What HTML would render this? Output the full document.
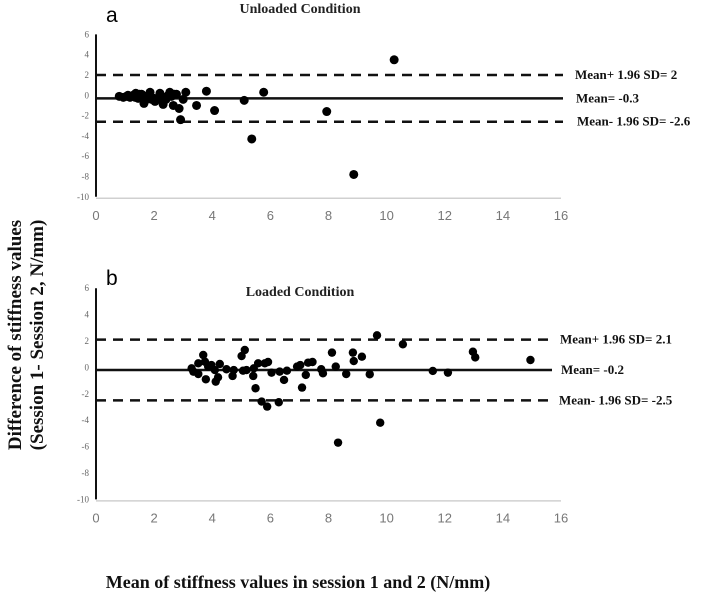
<!DOCTYPE html>
<html><head><meta charset="utf-8"><style>
html,body{margin:0;padding:0;background:#fff;width:709px;height:598px;overflow:hidden}
svg{display:block}
.tk{font-family:"Liberation Serif",serif;font-size:9px;fill:#666}
.xt{font-family:"Liberation Sans",sans-serif;font-size:13px;fill:#777}
.lab{font-family:"Liberation Serif",serif;font-weight:bold;font-size:13px;fill:#111}
.ttl{font-family:"Liberation Serif",serif;font-weight:bold;font-size:14px;fill:#222}
.bigx{font-family:"Liberation Serif",serif;font-weight:bold;font-size:18px;fill:#111}
.bigy{font-family:"Liberation Serif",serif;font-weight:bold;font-size:19px;fill:#111}
.let{font-family:"Liberation Sans",sans-serif;font-size:21px;fill:#000}
</style></head><body>
<svg id="chart" width="709" height="598">
<text class="bigx" x="298" y="588" text-anchor="middle">Mean of  stiffness values in session 1 and 2 (N/mm)</text>
<g transform="translate(21,335) rotate(-90)">
<text class="bigy" x="0" y="0" text-anchor="middle">Difference of  stiffness values</text>
<text class="bigy" x="0" y="22" text-anchor="middle">(Session 1- Session 2, N/mm)</text>
</g>
</svg>
<script>
const yTicks=[6,4,2,0,-2,-4,-6,-8,-10];
const xTicks=[0,2,4,6,8,10,12,14,16];
const unloadedX=[0.80,0.94,1.05,1.17,1.28,1.37,1.45,1.57,1.65,1.74,1.86,1.91,2.03,2.14,2.26,2.31,2.41,2.49,2.54,2.60,2.66,2.77,2.86,2.91,3.00,3.09,3.46,3.80,4.08,5.10,5.36,5.77,7.94,8.87,10.26,1.10,1.35,1.50,1.70,2.00,2.20,2.35,2.70];
const unloadedY=[-0.1,-0.2,-0.1,-0.2,0.0,0.2,-0.3,0.1,-0.8,-0.1,0.3,-0.4,-0.6,-0.3,-0.5,-0.9,-0.4,0.0,0.3,-0.1,-1.0,0.1,-1.3,-2.4,-0.4,0.3,-1.0,0.4,-1.5,-0.5,-4.3,0.3,-1.6,-7.8,3.5,0.0,-0.2,0.1,-0.5,-0.3,0.2,-0.2,0.1];
const unloadedStats=[2,-0.3,-2.6];
const unloadedLabels=["Mean+ 1.96 SD= 2","Mean= -0.3","Mean- 1.96 SD= -2.6"];
const loadedX=[3.29,3.35,3.52,3.52,3.69,3.75,3.78,3.86,3.97,4.09,4.12,4.20,4.26,4.49,4.70,4.74,5.01,5.06,5.12,5.18,5.41,5.43,5.49,5.58,5.70,5.81,5.89,5.92,6.04,6.29,6.32,6.47,6.57,6.92,7.03,7.09,7.22,7.30,7.45,7.75,7.81,8.12,8.25,8.33,8.61,8.84,8.87,9.15,9.42,9.67,9.78,10.56,11.59,12.11,12.97,13.05,14.95];
const loadedY=[-0.07,-0.32,0.31,-0.5,0.94,0.43,-0.9,0.06,0.18,-0.2,-1.08,-0.75,0.26,-0.14,-0.65,-0.2,0.86,-0.25,1.32,-0.2,-0.65,-0.07,-1.58,0.31,-2.59,0.31,-2.97,0.41,-0.4,-2.64,-0.32,-0.95,-0.25,0.06,0.18,-1.53,-0.57,0.36,0.41,-0.14,-0.45,1.12,0.06,-5.7,-0.5,1.12,0.48,0.81,-0.52,2.43,-4.19,1.75,-0.27,-0.4,1.19,0.76,0.56];
const loadedStats=[2.1,-0.2,-2.5];
const loadedLabels=["Mean+ 1.96 SD= 2.1","Mean= -0.2","Mean- 1.96 SD= -2.5"];

const NS="http://www.w3.org/2000/svg";
const svg=document.getElementById('chart');
function mk(tag,attrs,parent){const e=document.createElementNS(NS,tag);for(const k in attrs)e.setAttribute(k,attrs[k]);parent.appendChild(e);return e;}

function panel(cfg){
  const g=mk('g',{},svg);
  
  
  const xs=v=>96+v*29.06;
  const ys=v=>cfg.zero-v*cfg.sc;
  const t=mk('text',{class:'ttl',x:300,y:cfg.titleY,'text-anchor':'middle'},g);t.textContent=cfg.title;
  
  
  const l=mk('text',{class:'let',x:cfg.letX,y:cfg.letY},g);l.textContent=cfg.letter;
  
  
  const grid=mk('line',{x1:96,x2:xs(16),y1:ys(-10)+1.5,y2:ys(-10)+1.5,stroke:'#d0d0d0','stroke-width':1.5},g);
  
  
  const ax=mk('line',{x1:96,x2:96,y1:ys(6),y2:ys(-10),stroke:'#111','stroke-width':2},g);
  
  
  yTicks.forEach(v=>{const e=mk('text',{class:'tk',x:89,y:ys(v)+3,'text-anchor':'end'},g);e.textContent=v;
    
    });
  xTicks.forEach(v=>{const e=mk('text',{class:'xt',x:xs(v),y:ys(-10)+23,'text-anchor':'middle'},g);e.textContent=v;
    
    });
  cfg.stats.forEach((s,i)=>{
    const ln=mk('line',{x1:96,x2:cfg.lineEnd,y1:ys(s),y2:ys(s),stroke:'#111','stroke-width':2.5},g);
    if(i!=1)ln.setAttribute('stroke-dasharray','10 7');
    
    
    const tx=mk('text',{class:'lab',x:cfg.labX[i],y:ys(s)+4},g);tx.textContent=cfg.labels[i];
    
    
  });
  cfg.x.forEach((v,i)=>{const c=mk('circle',{cx:xs(v),cy:ys(cfg.y[i]),r:cfg.r,fill:'#000'},g);
    
    });
}
panel({name:'unloaded-panel',title:'Unloaded Condition',titleY:13,letter:'a',letX:106,letY:22,zero:95.3,sc:10.15,x:unloadedX,y:unloadedY,stats:unloadedStats,labels:unloadedLabels,labX:[575,576,577],lineEnd:563,r:4.5});
panel({name:'loaded-panel',title:'Loaded Condition',titleY:296,letter:'b',letX:106,letY:285,zero:367.4,sc:13.2,x:loadedX,y:loadedY,stats:loadedStats,labels:loadedLabels,labX:[560,561,559],lineEnd:552,r:4.2});
</script>
</body></html>
